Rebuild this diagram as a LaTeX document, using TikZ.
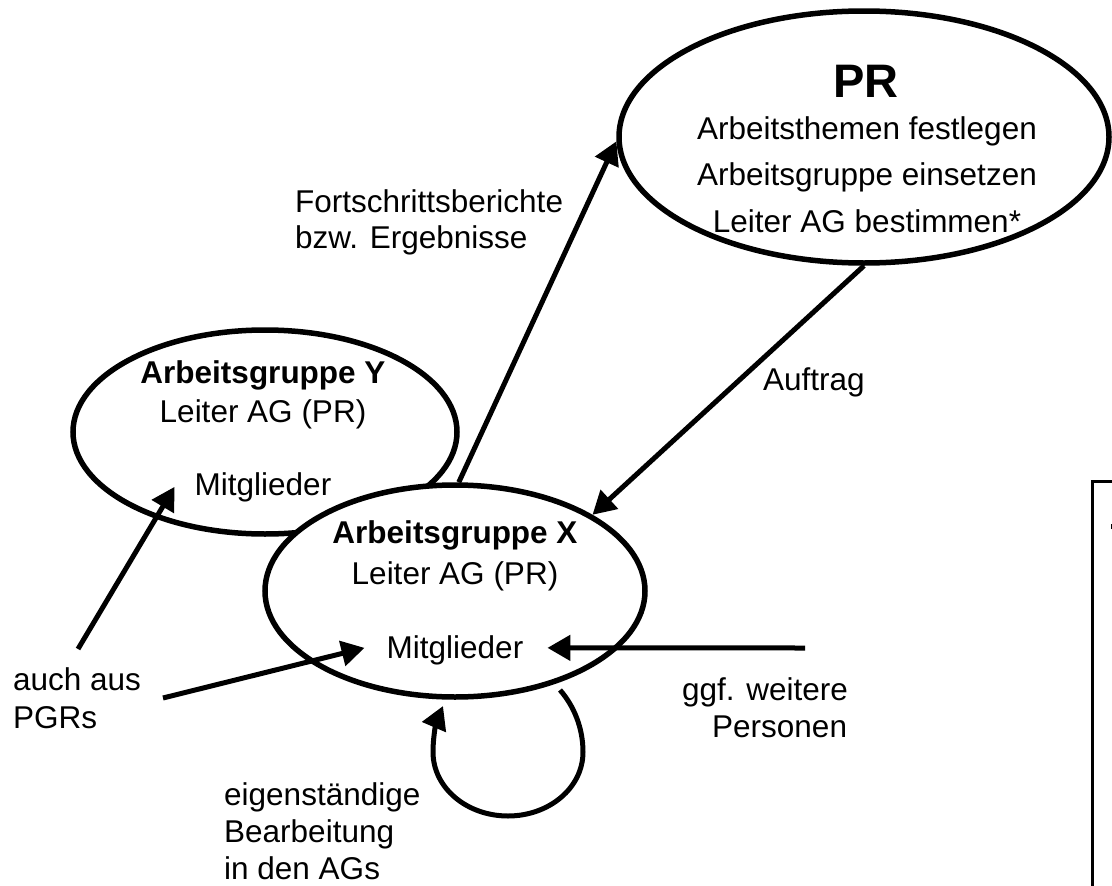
\documentclass[tikz,border=0pt]{standalone}
\usepackage{fontspec}
\setmainfont{Liberation Sans}
\usetikzlibrary{shapes.geometric,arrows.meta}
\begin{document}
\begin{tikzpicture}[x=1pt,y=-1pt,
  ell/.style={draw,ellipse,line width=5.5pt,fill=white,inner sep=0pt},
  arr/.style={line width=5pt,-{Triangle[length=23pt,width=25pt]}},
  txt/.style={inner sep=0pt,font=\fontsize{31.5pt}{38pt}\selectfont},
  btxt/.style={txt,font=\fontsize{31.5pt}{38pt}\selectfont\bfseries},
  big/.style={inner sep=0pt,font=\fontsize{47pt}{56pt}\selectfont\bfseries},
  frame/.style={line width=3pt}
]
\useasboundingbox (0,0) rectangle (1112,886);
\clip (0,0) rectangle (1112,886);

% ellipses
\node[ell,minimum width=490pt,minimum height=252pt] (pr) at (864,137) {};
\node[ell,minimum width=384pt,minimum height=204pt] (agy) at (265,432) {};

\node[txt,anchor=base] (ymit) at (263,495) {Mitglieder};
\node[btxt,anchor=base] (yt) at (263,383) {Arbeitsgruppe Y};
\node[txt,anchor=base] (yl) at (263,422) {Leiter AG (PR)};

\node[ell,minimum width=380pt,minimum height=212pt] (agx) at (455,591) {};

% texts in ellipses
\node[big,anchor=base] (prt) at (866,97) {PR};
\node[txt,anchor=base] (pr1) at (867,139) {Arbeitsthemen festlegen};
\node[txt,anchor=base] (pr2) at (867,185) {Arbeitsgruppe einsetzen};
\node[txt,anchor=base] (pr3) at (867,232) {Leiter AG bestimmen*};

\node[btxt,anchor=base] (xt) at (455,543) {Arbeitsgruppe X};
\node[txt,anchor=base] (xl) at (455,584) {Leiter AG (PR)};
\node[txt,anchor=base] (xmit) at (455,658) {Mitglieder};

% labels
\node[txt,anchor=base west] (fo1) at (295,212) {Fortschrittsberichte};
\node[txt,anchor=base west] (fo2) at (295,248) {bzw. Ergebnisse};
\node[txt,anchor=base west] (auf) at (763,390) {Auftrag};
\node[txt,anchor=base west] (au1) at (13,690) {auch aus};
\node[txt,anchor=base west] (au2) at (13,728) {PGRs};
\node[txt,anchor=base west] (gg1) at (682,700) {ggf. weitere};
\node[txt,anchor=base west] (gg2) at (712,737) {Personen};
\node[txt,anchor=base west] (ei1) at (224,805) {eigenst\"andige};
\node[txt,anchor=base west] (ei2) at (224,842) {Bearbeitung};
\node[txt,anchor=base west] (ei3) at (224,879) {in den AGs};

% connectors
\draw[arr] (agx.88) -- (pr.181);
\draw[arr] (pr.270) -- (agx.29);

\coordinate (auchS) at (163,698);
\coordinate (auchY) at (78,649);
\coordinate (ggfS) at (805,648);
\draw[arr] (auchS) -- ([shift={(-22,-2)}]xmit.west);
\draw[arr] (ggfS) -- ([shift={(24,-2)}]xmit.east);
\draw[arr] (auchY) -- ([shift={(-20,0)}]ymit.west);

\coordinate (loopS) at (560,690);
\coordinate (loopE) at (443,706);
\draw[arr] (loopS) .. controls (574,706) and (583,728) .. (583,752)
  .. controls (583,788) and (549,816) .. (508,816)
  .. controls (467,816) and (433,788) .. (433,752)
  .. controls (433,735) and (437,720) .. (loopE);

% partial frame at right
\draw[frame] (1120,481) -- (1092,481) -- (1092,900);
\fill (1110.5,524) rectangle (1112,529);
\end{tikzpicture}
\end{document}
